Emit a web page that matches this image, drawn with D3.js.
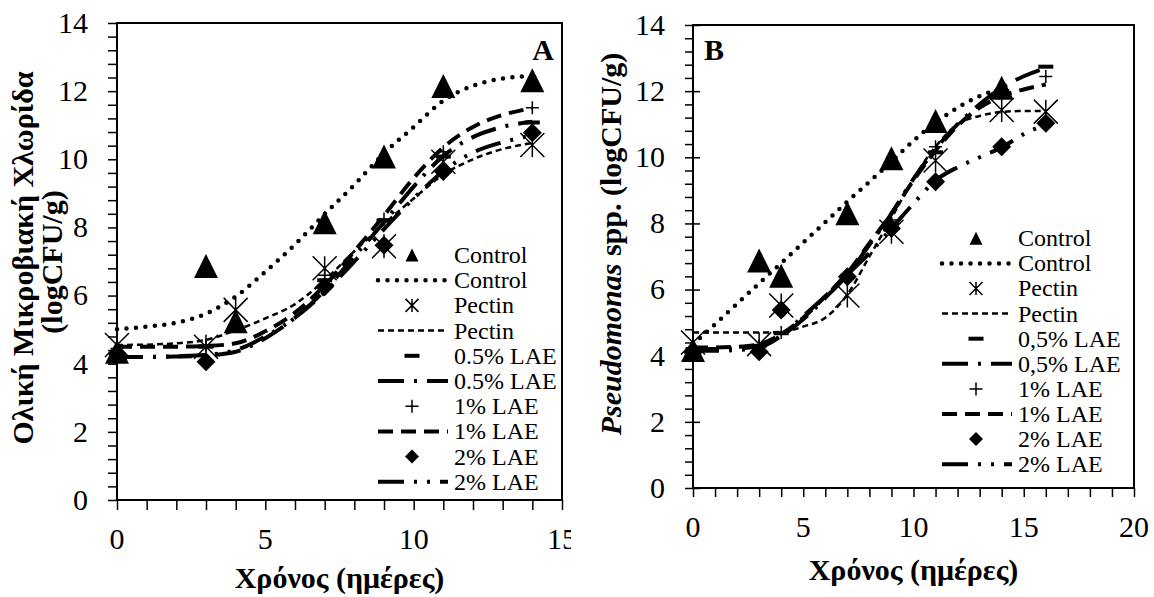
<!DOCTYPE html>
<html>
<head>
<meta charset="utf-8">
<script src="https://cdnjs.cloudflare.com/ajax/libs/d3/7.8.5/d3.min.js"></script>
<style>
body{margin:0;background:#fff;}
text{font-family:"Liberation Serif","Times New Roman",serif;fill:#000;}
</style>
</head>
<body>
<script>
// ---- panel A: total microbial count ----
var namesA=['Control','Pectin','0.5% LAE','1% LAE','2% LAE'];
var daysA=[0,3,4,7,9,11,14];
var daysALae=[0,3,7,9,11,14];
var controlA=[4.35,6.87,5.25,8.15,10.08,12.15,12.32];
var pectinA=[4.55,4.5,5.58,6.8,7.45,9.93,10.42];
var lae05A=[4.2,4.5,6.45,8.2,10.08,11.08];
var lae1A=[4.45,4.55,6.6,8.25,10.22,11.51];
var lae2A=[4.3,4.06,6.26,7.48,9.64,10.78];
// fitted curves, read at every day
var fitDaysA=[0,1,2,3,4,5,6,7,8,9,10,11,12,13,14];
var fitControlA=[5.01,5.09,5.2,5.47,5.97,6.7,7.5,8.39,9.25,10.17,10.95,11.72,12.16,12.37,12.44];
var fitPectinA=[4.55,4.56,4.6,4.7,4.98,5.33,5.75,6.45,7.3,8.1,8.85,9.55,10,10.3,10.48];
var fitLae05A=[4.2,4.2,4.21,4.24,4.35,4.75,5.35,6.15,7.15,8.15,9.2,10.1,10.65,10.95,11.1];
var fitLae1A=[4.5,4.5,4.5,4.52,4.6,4.95,5.5,6.3,7.3,8.35,9.45,10.35,10.95,11.3,11.5];
var fitLae2A=[4.2,4.2,4.22,4.26,4.4,4.8,5.35,6.1,7,7.95,8.85,9.65,10.2,10.5,10.7];

// ---- panel B: Pseudomonas spp. ----
var namesB=['Control','Pectin','0,5% LAE','1% LAE','2% LAE'];
var daysB=[0,3,4,7,9,11,14];
var daysBAll=[0,3,4,7,9,11,14,16];
var controlB=[4.17,6.88,6.42,8.31,9.97,11.1,12.1];
var pectinB=[4.4,4.35,5.52,5.82,7.75,9.9,11.43,11.38];
var lae05B=[4.2,4.3,4.68,6.4,8.0,10.15,12.0,12.74];
var lae1B=[4.2,4.3,4.7,6.45,8.1,10.32,12.0,12.44];
var lae2B=[4.1,4.12,5.38,6.39,7.85,9.26,10.32,11.03];
var fitDaysB=[0,1,2,3,4,5,6,7,8,9,10,11,12,13,14,15,16];
var fitDaysBCtrl=[0,1,2,3,4,5,6,7,8,9,10,11,12,13,14];
var fitControlB=[4.34,4.95,5.57,6.19,6.8,7.42,8.04,8.66,9.26,9.87,10.5,11.05,11.5,11.85,12.08];
var fitPectinB=[4.7,4.7,4.7,4.7,4.72,4.88,5.15,5.85,7,8.16,9.36,10.32,11,11.25,11.37,11.4,11.4];
var fitLae05B=[4.2,4.2,4.22,4.3,4.6,5.1,5.75,6.45,7.35,8.3,9.35,10.25,11,11.6,12.1,12.45,12.7];
var fitLae1B=[4.25,4.25,4.27,4.35,4.65,5.15,5.8,6.5,7.4,8.3,9.3,10.2,10.95,11.5,11.85,12.05,12.2];
var fitLae2B=[4.15,4.15,4.17,4.25,4.6,5.2,5.8,6.45,7.1,7.85,8.6,9.3,9.7,10,10.3,10.7,11];

var yTickLabels=[0,2,4,6,8,10,12,14];
var xTickLabelsA=[0,5,10,15];
var xTickLabelsB=[0,5,10,15,20];

// marker + line style per series (same order in both panels)
var markerTypes=['tri','star','dash','plus','diamond'];
var lineStyles=[
  {w:4.5,dash:'0,9.5',cap:'round'},
  {w:2.5,dash:'6,4',cap:'butt'},
  {w:4,dash:'26,10,3,10',cap:'butt'},
  {w:4,dash:'15,8',cap:'butt'},
  {w:4,dash:'26,10,3,10,3,10',cap:'butt'}
];

var width=1154,height=597;
var svg=d3.select('body').append('svg')
  .attr('width',width).attr('height',height);
svg.append('rect').attr('width',width).attr('height',height).attr('fill','#fff');

function drawMarker(g,type,cx,cy,big){
  var w;
  if(type=='tri'){
    w=big?24:13;
    g.append('path')
     .attr('d','M'+cx+','+(cy-w/2)+'L'+(cx+w/2)+','+(cy+w/2)+'L'+(cx-w/2)+','+(cy+w/2)+'Z')
     .attr('fill','#000');
  }else if(type=='star'){
    w=big?24:13;
    var p='M'+(cx-w/2)+','+(cy-w/2)+'L'+(cx+w/2)+','+(cy+w/2)
      +'M'+(cx+w/2)+','+(cy-w/2)+'L'+(cx-w/2)+','+(cy+w/2)
      +'M'+cx+','+(cy-w/2)+'L'+cx+','+(cy+w/2);
    g.append('path').attr('d',p).attr('stroke','#000').attr('stroke-width',1.5).attr('fill','none');
  }else if(type=='dash'){
    g.append('rect').attr('x',cx-7.5).attr('y',cy-2).attr('width',15).attr('height',4).attr('fill','#000');
  }else if(type=='plus'){
    w=13;
    g.append('path')
     .attr('d','M'+(cx-w/2)+','+cy+'L'+(cx+w/2)+','+cy+'M'+cx+','+(cy-w/2)+'L'+cx+','+(cy+w/2))
     .attr('stroke','#000').attr('stroke-width',1.5);
  }else if(type=='diamond'){
    w=big?19:14;
    g.append('path')
     .attr('d','M'+cx+','+(cy-w/2)+'L'+(cx+w/2)+','+cy+'L'+cx+','+(cy+w/2)+'L'+(cx-w/2)+','+cy+'Z')
     .attr('fill','#000');
  }
}

function drawPanel(o){
  var g=svg.append('g');
  if(o.bg){
    g.append('rect').attr('x',o.bg).attr('y',0).attr('width',width-o.bg).attr('height',height).attr('fill','#fff');
  }
  var x=d3.scaleLinear().domain([0,o.xMax]).range([o.left,o.right]);
  var y=d3.scaleLinear().domain([0,14]).range([o.bottom,o.top]);

  // tick marks (minor + major)
  g.append('g').attr('transform','translate('+o.left+',0)')
   .call(d3.axisLeft(y).tickValues(d3.range(0,14.01,0.4)).tickSize(o.yTick).tickFormat(''))
   .call(a=>a.select('.domain').remove())
   .selectAll('line').attr('stroke-width',1.5);
  g.append('g').attr('transform','translate(0,'+o.bottom+')')
   .call(d3.axisBottom(x).tickValues(d3.range(0,o.xMax+0.01,1)).tickSize(o.xTick).tickFormat(''))
   .call(a=>a.select('.domain').remove())
   .selectAll('line').attr('stroke-width',1.5);
  if(o.cross){
    g.append('g').attr('transform','translate('+o.left+',0)')
     .call(d3.axisRight(y).tickValues(yTickLabels).tickSize(7).tickFormat(''))
     .call(a=>a.select('.domain').remove())
     .selectAll('line').attr('stroke-width',1.5);
  }
  // tick labels
  g.selectAll('.ylab').data(yTickLabels).enter().append('text')
   .attr('class','ylab')
   .attr('x',o.left-o.yLab).attr('y',d=>y(d)).attr('dy','0.33em')
   .attr('text-anchor','end').style('font-size','30px')
   .text(d=>d);
  g.selectAll('.xlab').data(o.xLabels).enter().append('text')
   .attr('class','xlab')
   .attr('x',d=>x(d)).attr('y',o.bottom+39).attr('dy','0.33em')
   .attr('text-anchor','middle').style('font-size','30px')
   .text(d=>d);

  // frame
  g.append('rect').attr('x',o.left).attr('y',o.top)
   .attr('width',o.right-o.left).attr('height',o.bottom-o.top)
   .attr('fill','none').attr('stroke','#000').attr('stroke-width',2);

  // fitted curves
  var line=d3.line().x(d=>x(d[0])).y(d=>y(d[1])).curve(d3.curveMonotoneX);
  o.fits.forEach(function(f,i){
    var pts=f.days.map((d,k)=>[d,f.vals[k]]);
    g.append('path').attr('d',line(pts)).attr('fill','none')
     .attr('stroke','#000').attr('stroke-width',lineStyles[i].w)
     .attr('stroke-dasharray',lineStyles[i].dash)
     .attr('stroke-linecap',lineStyles[i].cap);
  });
  // observed points
  o.obs.forEach(function(s,i){
    s.days.forEach(function(d,k){
      drawMarker(g,markerTypes[i],x(d),y(s.vals[k]),true);
    });
  });

  // legend
  var lg=g.append('g');
  o.names.forEach(function(n,i){
    var r0=o.legY+o.legStep*(2*i), r1=o.legY+o.legStep*(2*i+1);
    drawMarker(lg,markerTypes[i],o.legMark,r0,false);
    lg.append('text').attr('x',o.legText).attr('y',r0).attr('dy','0.33em')
      .style('font-size','24px').text(n);
    lg.append('line').attr('x1',o.legLine[0]).attr('x2',o.legLine[1]).attr('y1',r1).attr('y2',r1)
      .attr('stroke','#000').attr('stroke-width',lineStyles[i].w)
      .attr('stroke-dasharray',lineStyles[i].dash)
      .attr('stroke-linecap',lineStyles[i].cap);
    lg.append('text').attr('x',o.legText).attr('y',r1).attr('dy','0.33em')
      .style('font-size','24px').text(n);
  });

  // panel letter
  g.append('text').attr('x',o.letterX).attr('y',60).attr('text-anchor',o.letterAnchor)
   .style('font-size','30px').style('font-weight','bold').text(o.letter);

  // x title
  g.append('text').attr('x',(o.left+o.right)/2).attr('y',o.xTitleY).attr('text-anchor','middle')
   .style('font-size','30px').style('font-weight','bold').text('Χρόνος (ημέρες)');
  return g;
}

drawPanel({
  left:117,right:562,top:23,bottom:500,xMax:15,xLabels:xTickLabelsA,
  yTick:9,yLab:29,xTick:10,
  names:namesA,
  fits:[{days:fitDaysA,vals:fitControlA},{days:fitDaysA,vals:fitPectinA},{days:fitDaysA,vals:fitLae05A},
        {days:fitDaysA,vals:fitLae1A},{days:fitDaysA,vals:fitLae2A}],
  obs:[{days:daysA,vals:controlA},{days:daysA,vals:pectinA},{days:daysALae,vals:lae05A},
       {days:daysALae,vals:lae1A},{days:daysALae,vals:lae2A}],
  legY:255,legStep:25.2,legMark:412,legLine:[378,448],legText:454,
  letter:'A',letterX:554,letterAnchor:'end',xTitleY:588
});

drawPanel({
  bg:571,
  left:693,right:1134,top:25,bottom:488,xMax:20,xLabels:xTickLabelsB,
  yTick:8,yLab:28,xTick:9,cross:true,
  names:namesB,
  fits:[{days:fitDaysBCtrl,vals:fitControlB},{days:fitDaysB,vals:fitPectinB},{days:fitDaysB,vals:fitLae05B},
        {days:fitDaysB,vals:fitLae1B},{days:fitDaysB,vals:fitLae2B}],
  obs:[{days:daysB,vals:controlB},{days:daysBAll,vals:pectinB},{days:daysBAll,vals:lae05B},
       {days:daysBAll,vals:lae1B},{days:daysBAll,vals:lae2B}],
  legY:238.3,legStep:25.1,legMark:976,legLine:[942,1012],legText:1018,
  letter:'B',letterX:704,letterAnchor:'start',xTitleY:580
});

// y axis titles
svg.append('text').attr('transform','translate(33,258) rotate(-90)').attr('text-anchor','middle')
  .style('font-size','30px').style('font-weight','bold').text('Ολική Μικροβιακή Χλωρίδα');
svg.append('text').attr('transform','translate(62,262) rotate(-90)').attr('text-anchor','middle')
  .style('font-size','30px').style('font-weight','bold').text('(logCFU/g)');
var yt=svg.append('text').attr('transform','translate(621,244) rotate(-90)').attr('text-anchor','middle')
  .style('font-size','30px').style('font-weight','bold');
yt.append('tspan').style('font-style','italic').text('Pseudomonas');
yt.append('tspan').text(' spp. (logCFU/g)');
</script>
</body>
</html>
